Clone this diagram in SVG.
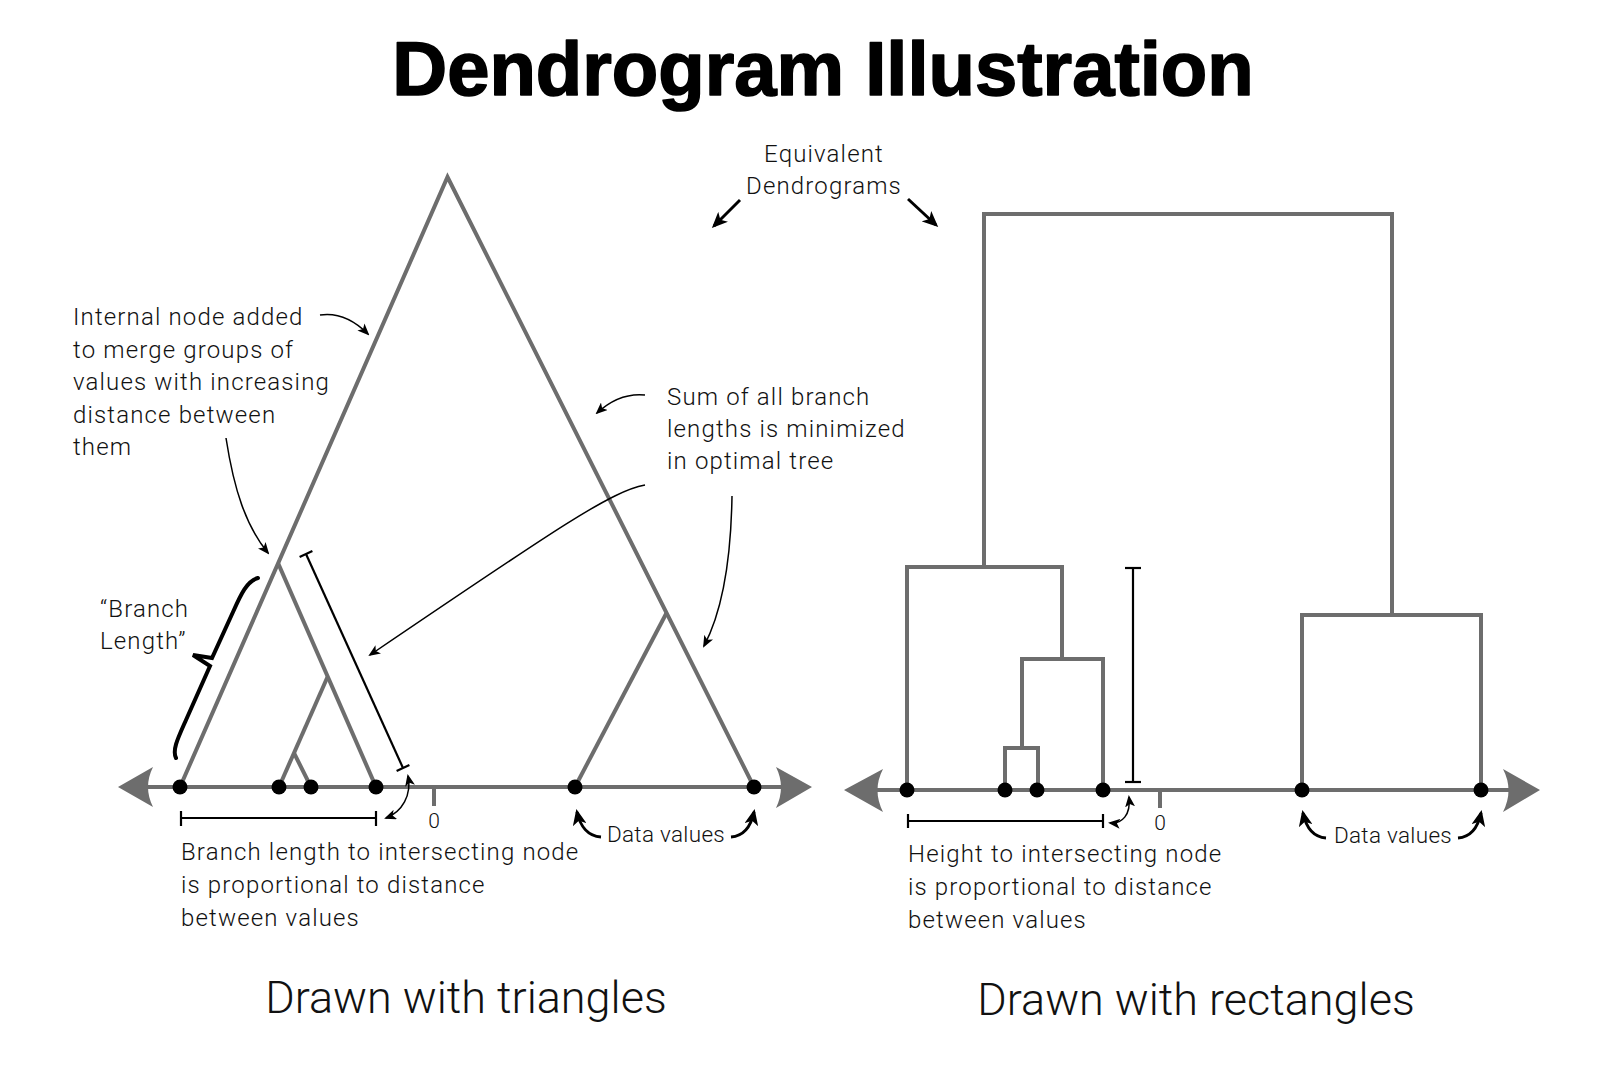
<svg xmlns="http://www.w3.org/2000/svg" width="1611" height="1080" viewBox="0 0 1611 1080">
<style>
  .t { font-family: Roboto, "Liberation Sans", sans-serif; font-weight: 300; font-size: 24px; letter-spacing: 1.15px; fill: #111; }
  .dv { font-size: 22.5px; letter-spacing: 0.3px; }
  .zero { font-size: 21px; letter-spacing: 0; text-anchor: middle; }
  .cap { font-size: 45px; letter-spacing: 0; text-anchor: middle; }
  .title { font-family: "Liberation Sans", Arial, sans-serif; font-weight: 700; font-size: 76px; fill: #000; stroke: #000; stroke-width: 1.6; stroke-linejoin: round; text-anchor: middle; }
  .tree { fill: none; stroke: #6d6d6d; stroke-width: 4; stroke-linejoin: miter; }
  .axhead { fill: #6d6d6d; }
  .dot { fill: #000; }
  .thin { fill: none; stroke: #000; stroke-width: 1.5; }
  .bold { fill: none; stroke: #000; stroke-width: 3; }
  .bar { fill: none; stroke: #000; stroke-width: 2.2; }
</style>
<defs>
  <marker id="ah" viewBox="0 0 12 10" refX="10" refY="5" markerWidth="12" markerHeight="10" markerUnits="userSpaceOnUse" orient="auto-start-reverse">
    <path d="M0,0 L12,5 L0,10 L3,5 Z" fill="#000"/>
  </marker>
  <marker id="ahb" viewBox="0 0 16 14" refX="13" refY="7" markerWidth="16" markerHeight="14" markerUnits="userSpaceOnUse" orient="auto-start-reverse">
    <path d="M0,0 L16,7 L0,14 L4,7 Z" fill="#000"/>
  </marker>
</defs>
<rect width="1611" height="1080" fill="#fff"/>

<g id="title"><text class="title" x="823" y="95">Dendrogram Illustration</text></g>

<!-- Left: triangles -->
<g id="left-axis">
  <line class="tree" x1="140" y1="787" x2="792" y2="787"/>
  <path class="axhead" d="M118,787 L153,767 Q143,787 153,807 Z"/>
  <path class="axhead" d="M812,787 L776,767 Q786,787 776,808 Z"/>
  <line class="tree" x1="434" y1="787" x2="434" y2="806"/>
  <text class="t zero" x="434" y="828">0</text>
</g>
<g id="left-tree">
  <polyline class="tree" points="180,787 447.5,177 754,787"/>
  <polyline class="tree" points="278,563 376,787"/>
  <polyline class="tree" points="327.5,677 279,787"/>
  <polyline class="tree" points="294,753 311,787"/>
  <polyline class="tree" points="666.5,613 575,787"/>
</g>
<g id="left-leaves">
  <circle class="dot" cx="180" cy="787" r="7.5"/>
  <circle class="dot" cx="279" cy="787" r="7.5"/>
  <circle class="dot" cx="311" cy="787" r="7.5"/>
  <circle class="dot" cx="376" cy="787" r="7.5"/>
  <circle class="dot" cx="575" cy="787" r="7.5"/>
  <circle class="dot" cx="754" cy="787" r="7.5"/>
</g>

<!-- Right: rectangles -->
<g id="right-axis">
  <line class="tree" x1="868" y1="790" x2="1520" y2="790"/>
  <path class="axhead" d="M844,790 L883,769 Q872,790 883,812 Z"/>
  <path class="axhead" d="M1540,790 L1503,769 Q1514,790 1503,812 Z"/>
  <line class="tree" x1="1160" y1="790" x2="1160" y2="808"/>
  <text class="t zero" x="1160" y="830">0</text>
</g>
<g id="right-tree">
  <path class="tree" d="M1005,790 V748 H1038 V790"/>
  <path class="tree" d="M1022,748 V659 H1103 V790"/>
  <path class="tree" d="M1022,659 H1062"/>
  <path class="tree" d="M907,790 V567 H1062 V659"/>
  <path class="tree" d="M984,567 V214 H1392 V615"/>
  <path class="tree" d="M1302,790 V615 H1481 V790"/>
</g>
<g id="right-leaves">
  <circle class="dot" cx="907" cy="790" r="7.5"/>
  <circle class="dot" cx="1005" cy="790" r="7.5"/>
  <circle class="dot" cx="1037" cy="790" r="7.5"/>
  <circle class="dot" cx="1103" cy="790" r="7.5"/>
  <circle class="dot" cx="1302" cy="790" r="7.5"/>
  <circle class="dot" cx="1481" cy="790" r="7.5"/>
</g>

<!-- Measurement bars -->
<g id="bars">
  <line class="bar" x1="306" y1="554" x2="403" y2="768"/>
  <line class="bar" x1="299.6" y1="557" x2="312.4" y2="551"/>
  <line class="bar" x1="396.6" y1="771" x2="409.4" y2="765"/>
  <line class="bar" x1="181" y1="818" x2="376" y2="818"/>
  <line class="bar" x1="181" y1="811" x2="181" y2="826"/>
  <line class="bar" x1="376" y1="811" x2="376" y2="826"/>
  <line class="bar" x1="1133" y1="568" x2="1133" y2="782"/>
  <line class="bar" x1="1125" y1="568" x2="1141" y2="568"/>
  <line class="bar" x1="1125" y1="782" x2="1141" y2="782"/>
  <line class="bar" x1="908" y1="821" x2="1103" y2="821"/>
  <line class="bar" x1="908" y1="814" x2="908" y2="828"/>
  <line class="bar" x1="1103" y1="814" x2="1103" y2="828"/>
  <path d="M258,578 C247,581 241,594 233,612 L212,658 L193,655 L210,666 L186,720 C178,738 172,750 176,758" fill="none" stroke="#000" stroke-width="4" stroke-linecap="round" stroke-linejoin="miter"/>
</g>

<!-- Annotation connectors -->
<g id="connectors">
  <path class="thin" d="M320,315 C340,312 356,322 368,334" marker-end="url(#ah)"/>
  <path class="thin" d="M226,438 C234,490 246,526 268,553" marker-end="url(#ah)"/>
  <path class="thin" d="M645,395 C625,393 610,401 597,413" marker-end="url(#ah)"/>
  <path class="thin" d="M645,485 C612,491 560,526 370,655" marker-end="url(#ah)"/>
  <path class="thin" d="M732,496 C731,560 722,612 704,646" marker-end="url(#ah)"/>
  <path class="thin" d="M408,776 C412,795 402,812 386,818" marker-start="url(#ah)" marker-end="url(#ah)"/>
  <path class="thin" d="M1129,797 C1131,815 1122,824 1110,823" marker-start="url(#ah)" marker-end="url(#ah)"/>
  <path class="bold" d="M740,200 L714,226" marker-end="url(#ahb)"/>
  <path class="bold" d="M908,199 L936,225" marker-end="url(#ahb)"/>
  <path class="bold" d="M601,837 C588,836 580,826 577,812" marker-end="url(#ahb)"/>
  <path class="bold" d="M731,837 C744,836 751,826 754,812" marker-end="url(#ahb)"/>
  <path class="bold" d="M1326,838 C1313,837 1306,827 1303,813" marker-end="url(#ahb)"/>
  <path class="bold" d="M1458,838 C1471,837 1478,827 1481,813" marker-end="url(#ahb)"/>
</g>

<!-- Labels -->
<g id="label-internal-node">
  <text class="t" x="73" y="325">Internal node added</text>
  <text class="t" x="73" y="358">to merge groups of</text>
  <text class="t" x="73" y="390">values with increasing</text>
  <text class="t" x="73" y="423">distance between</text>
  <text class="t" x="73" y="455">them</text>
</g>
<g id="label-branch-length">
  <text class="t" x="100" y="617">“Branch</text>
  <text class="t" x="100" y="649">Length”</text>
</g>
<g id="label-sum">
  <text class="t" x="667" y="405">Sum of all branch</text>
  <text class="t" x="667" y="437">lengths is minimized</text>
  <text class="t" x="667" y="469">in optimal tree</text>
</g>
<g id="label-equivalent">
  <text class="t" x="824" y="162" text-anchor="middle">Equivalent</text>
  <text class="t" x="824" y="194" text-anchor="middle">Dendrograms</text>
</g>
<g id="label-data-left"><text class="t dv" x="666" y="842" text-anchor="middle">Data values</text></g>
<g id="label-data-right"><text class="t dv" x="1393" y="843" text-anchor="middle">Data values</text></g>
<g id="label-left-caption">
  <text class="t" x="181" y="860">Branch length to intersecting node</text>
  <text class="t" x="181" y="893">is proportional to distance</text>
  <text class="t" x="181" y="926">between values</text>
</g>
<g id="label-right-caption">
  <text class="t" x="908" y="862">Height to intersecting node</text>
  <text class="t" x="908" y="895">is proportional to distance</text>
  <text class="t" x="908" y="928">between values</text>
</g>
<g id="caption-triangles"><text class="t cap" x="466" y="1013">Drawn with triangles</text></g>
<g id="caption-rectangles"><text class="t cap" x="1196" y="1015">Drawn with rectangles</text></g>
</svg>
